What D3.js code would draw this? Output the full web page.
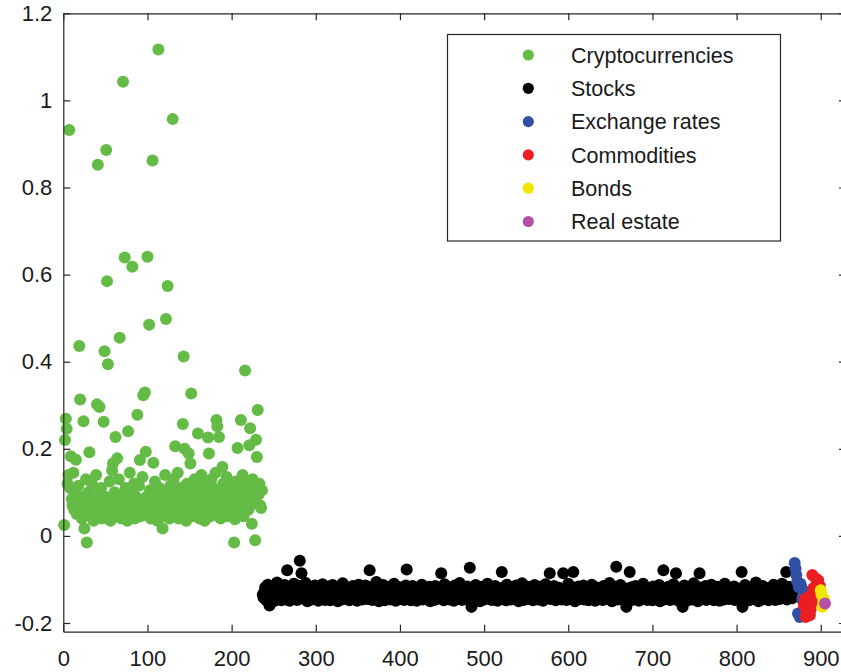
<!DOCTYPE html>
<html><head><meta charset="utf-8">
<script src="https://cdn.jsdelivr.net/npm/d3@7"></script>
<style>body{margin:0;background:#fff}svg{display:block}text{font-family:"Liberation Sans",Arial,Helvetica,sans-serif;fill:#1a1a1a}</style>
</head><body><svg id="c" width="841" height="672"></svg>
<script>
const seriesNames = ["Cryptocurrencies","Stocks","Exchange rates","Commodities","Bonds","Real estate"];
const seriesColors = ["#64bb46","#000000","#3050a5","#eb1e23","#f0e600","#b450a5"];
const xTicks = [0,100,200,300,400,500,600,700,800,900];
const yTicks = [-0.2,0,0.2,0.4,0.6,0.8,1,1.2];
const yTickLabels = ["-0.2","0","0.2","0.4","0.6","0.8","1","1.2"];

const crypto = [0.025,0.22,0.269,0.246,0.12,0.14,0.932,0.11,0.183,0.085,0.07,0.145,0.06,0.095,0.175,0.05,0.08,0.115,0.436,0.313,
0.065,0.04,0.09,0.263,0.017,0.075,0.13,-0.015,0.055,0.1,0.192,0.045,0.085,0.12,0.06,0.035,0.095,0.07,0.14,0.302,
0.852,0.05,0.296,0.08,0.11,0.04,0.065,0.262,0.424,0.09,0.886,0.585,0.394,0.055,0.125,0.035,0.075,0.15,0.166,0.06,
0.1,0.227,0.045,0.178,0.085,0.13,0.455,0.07,0.04,0.095,1.043,0.055,0.639,0.11,0.065,0.035,0.24,0.08,0.145,0.05,
0.1,0.618,0.07,0.12,0.04,0.09,0.06,0.278,0.085,0.115,0.174,0.045,0.075,0.135,0.323,0.055,0.329,0.193,0.09,0.641,
0.065,0.485,0.105,0.04,0.08,0.862,0.168,0.05,0.125,0.07,0.095,0.035,1.117,0.11,0.06,0.085,0.045,0.017,0.1,0.075,
0.14,0.498,0.055,0.574,0.09,0.04,0.115,0.065,0.08,0.957,0.13,0.05,0.206,0.095,0.07,0.145,0.04,0.085,0.11,0.06,
0.1,0.257,0.412,0.2,0.075,0.035,0.12,0.055,0.189,0.09,0.166,0.327,0.065,0.105,0.045,0.13,0.08,0.06,0.115,0.235,
0.07,0.04,0.095,0.14,0.055,0.085,0.12,0.035,0.075,0.1,0.06,0.226,0.189,0.09,0.045,0.13,0.07,0.11,0.05,0.085,
0.145,0.266,0.252,0.065,0.227,0.1,0.04,0.08,0.158,0.12,0.055,0.095,0.07,0.135,0.045,0.09,0.06,0.115,0.075,0.1,
0.05,0.085,-0.015,0.038,0.125,0.065,0.202,0.09,0.11,0.055,0.266,0.08,0.14,0.045,0.1,0.38,0.07,0.12,0.095,0.06,
0.208,0.247,0.085,0.028,0.13,0.075,0.11,-0.01,0.221,0.181,0.289,0.095,0.12,0.07,0.064,0.105];

const stocks = [-0.135,-0.142,-0.128,-0.118,-0.147,-0.131,-0.112,-0.139,-0.160,-0.125,-0.144,-0.121,-0.133,-0.150,-0.116,-0.129,-0.138,-0.107,-0.145,-0.126,
-0.132,-0.119,-0.148,-0.136,-0.124,-0.141,-0.113,-0.130,-0.146,-0.079,-0.122,-0.137,-0.149,-0.117,-0.134,-0.127,-0.143,-0.110,-0.131,-0.140,
-0.123,-0.147,-0.135,-0.115,-0.057,-0.128,-0.086,-0.139,-0.120,-0.144,-0.131,-0.108,-0.137,-0.150,-0.125,-0.118,-0.141,-0.133,-0.146,-0.121,
-0.129,-0.138,-0.114,-0.145,-0.132,-0.124,-0.149,-0.119,-0.136,-0.142,-0.127,-0.111,-0.140,-0.133,-0.147,-0.122,-0.130,-0.143,-0.116,-0.135,
-0.148,-0.126,-0.139,-0.113,-0.131,-0.145,-0.120,-0.137,-0.128,-0.150,-0.117,-0.134,-0.141,-0.124,-0.146,-0.109,-0.132,-0.139,-0.125,-0.143,
-0.118,-0.136,-0.130,-0.148,-0.121,-0.140,-0.127,-0.115,-0.144,-0.133,-0.138,-0.123,-0.149,-0.129,-0.112,-0.142,-0.135,-0.120,-0.146,-0.131,
-0.126,-0.141,-0.114,-0.137,-0.145,-0.122,-0.132,-0.079,-0.139,-0.128,-0.147,-0.116,-0.134,-0.143,-0.124,-0.106,-0.140,-0.130,-0.150,-0.119,
-0.136,-0.127,-0.144,-0.113,-0.133,-0.148,-0.121,-0.138,-0.129,-0.142,-0.117,-0.135,-0.146,-0.125,-0.131,-0.140,-0.110,-0.137,-0.149,-0.123,
-0.132,-0.145,-0.118,-0.139,-0.128,-0.143,-0.120,-0.134,-0.147,-0.126,-0.114,-0.077,-0.141,-0.130,-0.136,-0.122,-0.148,-0.133,-0.115,-0.144,
-0.127,-0.138,-0.131,-0.149,-0.119,-0.142,-0.135,-0.124,-0.140,-0.112,-0.146,-0.129,-0.137,-0.121,-0.133,-0.145,-0.126,-0.139,-0.117,-0.150,
-0.130,-0.143,-0.123,-0.136,-0.147,-0.115,-0.132,-0.141,-0.128,-0.138,-0.120,-0.144,-0.086,-0.134,-0.125,-0.148,-0.111,-0.139,-0.131,-0.142,
-0.118,-0.135,-0.146,-0.127,-0.140,-0.122,-0.133,-0.149,-0.114,-0.137,-0.129,-0.144,-0.124,-0.136,-0.108,-0.141,-0.130,-0.147,-0.119,-0.134,
-0.143,-0.126,-0.138,-0.116,-0.132,-0.145,-0.073,-0.128,-0.163,-0.121,-0.140,-0.135,-0.148,-0.113,-0.131,-0.142,-0.124,-0.137,-0.150,-0.127,
-0.117,-0.139,-0.133,-0.146,-0.122,-0.130,-0.144,-0.110,-0.136,-0.128,-0.141,-0.120,-0.147,-0.134,-0.125,-0.138,-0.115,-0.143,-0.131,-0.149,
-0.123,-0.137,-0.128,-0.145,-0.083,-0.119,-0.134,-0.140,-0.126,-0.148,-0.112,-0.135,-0.142,-0.129,-0.121,-0.146,-0.133,-0.118,-0.139,-0.127,
-0.144,-0.114,-0.136,-0.131,-0.150,-0.124,-0.141,-0.130,-0.109,-0.138,-0.147,-0.122,-0.135,-0.128,-0.143,-0.117,-0.132,-0.145,-0.126,-0.139,
-0.120,-0.148,-0.133,-0.113,-0.140,-0.129,-0.136,-0.146,-0.123,-0.131,-0.142,-0.116,-0.137,-0.149,-0.125,-0.134,-0.111,-0.143,-0.128,-0.138,
-0.121,-0.086,-0.145,-0.132,-0.127,-0.140,-0.115,-0.136,-0.148,-0.124,-0.130,-0.143,-0.119,-0.137,-0.126,-0.146,-0.134,-0.086,-0.141,-0.129,
-0.122,-0.147,-0.135,-0.110,-0.139,-0.131,-0.144,-0.125,-0.118,-0.083,-0.137,-0.150,-0.128,-0.133,-0.141,-0.116,-0.136,-0.145,-0.123,-0.130,
-0.139,-0.114,-0.146,-0.127,-0.134,-0.142,-0.120,-0.148,-0.131,-0.125,-0.137,-0.112,-0.143,-0.129,-0.135,-0.149,-0.118,-0.140,-0.126,-0.133,
-0.145,-0.121,-0.138,-0.130,-0.147,-0.115,-0.136,-0.124,-0.141,-0.132,-0.128,-0.144,-0.108,-0.139,-0.127,-0.150,-0.122,-0.134,-0.143,-0.117,
-0.071,-0.130,-0.146,-0.125,-0.137,-0.113,-0.142,-0.129,-0.135,-0.148,-0.120,-0.138,-0.163,-0.126,-0.144,-0.131,-0.083,-0.140,-0.118,-0.147,
-0.133,-0.124,-0.139,-0.115,-0.145,-0.128,-0.136,-0.149,-0.121,-0.132,-0.141,-0.127,-0.110,-0.143,-0.134,-0.138,-0.123,-0.147,-0.130,-0.119,
-0.140,-0.126,-0.135,-0.148,-0.116,-0.131,-0.144,-0.122,-0.137,-0.129,-0.142,-0.113,-0.150,-0.125,-0.136,-0.133,-0.079,-0.146,-0.120,-0.139,
-0.128,-0.143,-0.117,-0.134,-0.147,-0.124,-0.138,-0.131,-0.111,-0.145,-0.127,-0.086,-0.140,-0.135,-0.149,-0.121,-0.132,-0.142,-0.126,-0.163,
-0.137,-0.114,-0.144,-0.130,-0.123,-0.148,-0.135,-0.119,-0.141,-0.128,-0.146,-0.133,-0.109,-0.139,-0.125,-0.143,-0.131,-0.150,-0.118,-0.086,
-0.136,-0.127,-0.145,-0.122,-0.132,-0.140,-0.115,-0.147,-0.129,-0.138,-0.124,-0.144,-0.134,-0.112,-0.141,-0.130,-0.148,-0.121,-0.137,-0.126,
-0.143,-0.117,-0.135,-0.149,-0.128,-0.139,-0.123,-0.132,-0.146,-0.110,-0.140,-0.131,-0.136,-0.125,-0.145,-0.119,-0.138,-0.127,-0.142,-0.134,
-0.116,-0.147,-0.129,-0.137,-0.122,-0.144,-0.133,-0.128,-0.140,-0.083,-0.163,-0.124,-0.139,-0.113,-0.146,-0.131,-0.136,-0.120,-0.148,-0.127,
-0.141,-0.134,-0.118,-0.145,-0.130,-0.138,-0.107,-0.143,-0.126,-0.150,-0.121,-0.135,-0.132,-0.146,-0.115,-0.139,-0.128,-0.142,-0.124,-0.137,
-0.133,-0.148,-0.119,-0.131,-0.144,-0.126,-0.140,-0.112,-0.136,-0.147,-0.123,-0.130,-0.141,-0.118,-0.145,-0.129,-0.135,-0.110,-0.143,-0.127,
-0.138,-0.122,-0.083,-0.146,-0.131,-0.117,-0.140,-0.134,-0.125,-0.143,-0.128,-0.120];

const exchangeRates = [-0.062,-0.075,-0.090,-0.105,-0.178,-0.118,-0.186,-0.110,-0.118,-0.146,-0.125];
const commodities = [-0.160,-0.145,-0.186,-0.175,-0.167,-0.155,-0.140,-0.182,-0.170,-0.152,-0.090,-0.120,-0.135,-0.129,-0.098,-0.150,-0.110,-0.102,-0.140,-0.115];
const bonds = [-0.125,-0.136,-0.163,-0.152,-0.145];
const realEstate = [-0.155];

const groups = [crypto, stocks, exchangeRates, commodities, bonds, realEstate];

const W = 841, H = 672;
const m = {left: 63.3, top: 13.3, right: 846, bottom: 631.7};
const x = d3.scaleLinear().domain([0, 930]).range([m.left, m.right]);
const y = d3.scaleLinear().domain([-0.22, 1.2]).range([m.bottom, m.top]);

const svg = d3.select("#c");
const axisColor = "#262626";

// data points
let idx = 0;
groups.forEach((vals, g) => {
  const pts = vals.map(v => { idx += 1; return {i: idx, v}; });
  svg.append("g").selectAll("circle").data(pts).join("circle")
    .attr("cx", d => x(d.i)).attr("cy", d => y(d.v)).attr("r", 6)
    .attr("fill", seriesColors[g]);
});

// axes box
const fmtY = d => yTickLabels[yTicks.indexOf(d)];
const ax = d3.axisBottom(x).tickValues(xTicks).tickSizeInner(-7).tickSizeOuter(0).tickPadding(19);
svg.append("g").attr("transform", `translate(0,${m.bottom})`).call(ax);
const axTop = d3.axisTop(x).tickValues(xTicks).tickSizeInner(-7).tickSizeOuter(0).tickFormat("");
svg.append("g").attr("transform", `translate(0,${m.top})`).call(axTop);
const ay = d3.axisLeft(y).tickValues(yTicks).tickSizeInner(-7).tickSizeOuter(0).tickPadding(11).tickFormat(fmtY);
svg.append("g").attr("transform", `translate(${m.left},0)`).call(ay);
const ayR = d3.axisRight(y).tickValues(yTicks).tickSizeInner(-7).tickSizeOuter(0).tickFormat("");
svg.append("g").attr("transform", `translate(${m.right},0)`).call(ayR);
svg.selectAll(".domain").attr("stroke", axisColor).attr("stroke-width", 1.2);
svg.selectAll(".tick line").attr("stroke", axisColor).attr("stroke-width", 1.2);
svg.selectAll(".tick text").attr("font-size", 22).attr("fill", "#1a1a1a")
  .style("font-family", '"Liberation Sans",Arial,Helvetica,sans-serif');

// legend
const lg = svg.append("g");
lg.append("rect").attr("x", 447.5).attr("y", 34.5).attr("width", 333).attr("height", 206.5)
  .attr("fill", "#fff").attr("stroke", axisColor).attr("stroke-width", 1.2);
const ly = d3.scalePoint().domain(seriesNames).range([55, 221.5]);
seriesNames.forEach((n, k) => {
  lg.append("circle").attr("cx", 528.3).attr("cy", ly(n)).attr("r", 5.6).attr("fill", seriesColors[k]);
  lg.append("text").attr("x", 571).attr("y", ly(n)).attr("dy", "0.36em")
    .attr("font-size", 21.5).text(n);
});
</script></body></html>
